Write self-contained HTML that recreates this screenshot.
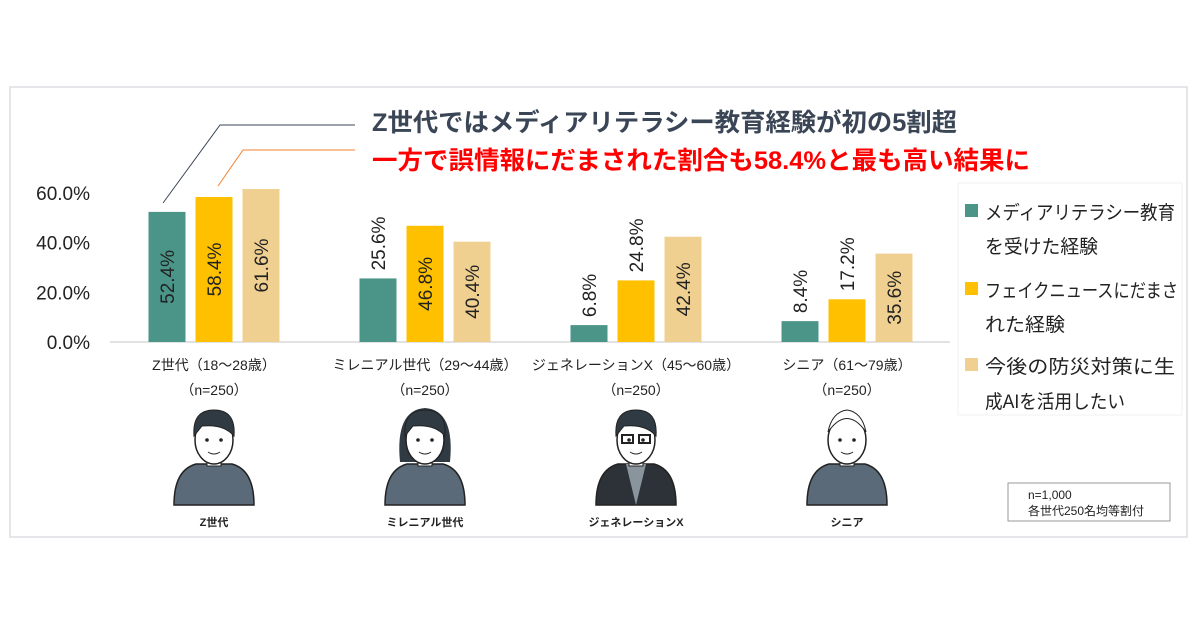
<!DOCTYPE html>
<html><head><meta charset="utf-8"><style>
body{margin:0;width:1200px;height:630px;background:#fff;overflow:hidden;font-family:"Liberation Sans","Noto Sans CJK JP",sans-serif}
</style></head><body>
<svg id="c" width="1200" height="630" xmlns="http://www.w3.org/2000/svg" font-family="'Liberation Sans','Noto Sans CJK JP',sans-serif">
<rect x="10" y="87" width="1177" height="450" fill="#fff" stroke="#dcdde3" stroke-width="1.5"/>
<text x="372" y="131" font-size="25" font-weight="bold" fill="#3a4556" textLength="585" lengthAdjust="spacingAndGlyphs">Z世代ではメディアリテラシー教育経験が初の5割超</text>
<text x="372" y="169" font-size="25" font-weight="bold" fill="#ff0000" textLength="658" lengthAdjust="spacingAndGlyphs">一方で誤情報にだまされた割合も58.4%と最も高い結果に</text>
<polyline points="163,203 220,125 355,125" fill="none" stroke="#3a4556" stroke-width="1"/>
<polyline points="218,186 243,150 355,150" fill="none" stroke="#f08030" stroke-width="1"/>
<g id="plot"></g>
<g>
<rect x="958" y="183" width="224" height="232" fill="#fff" stroke="#f0f0f0"/>
<rect x="965" y="204" width="13" height="13" fill="#4a9488"/>
<text x="985" y="219" font-size="19" fill="#222" textLength="190" lengthAdjust="spacingAndGlyphs">メディアリテラシー教育</text>
<text x="985" y="253" font-size="19" fill="#222" textLength="113" lengthAdjust="spacingAndGlyphs">を受けた経験</text>
<rect x="965" y="282" width="13" height="13" fill="#ffc000"/>
<text x="985" y="297" font-size="19" fill="#222" textLength="193" lengthAdjust="spacingAndGlyphs">フェイクニュースにだまさ</text>
<text x="985" y="331" font-size="19" fill="#222" textLength="80" lengthAdjust="spacingAndGlyphs">れた経験</text>
<rect x="965" y="358" width="13" height="13" fill="#f0d090"/>
<text x="985" y="373" font-size="19" fill="#222" textLength="190" lengthAdjust="spacingAndGlyphs">今後の防災対策に生</text>
<text x="985" y="408" font-size="19" fill="#222" textLength="140" lengthAdjust="spacingAndGlyphs">成AIを活用したい</text>
</g>
<rect x="1008" y="483" width="162" height="38" fill="#fff" stroke="#999"/>
<text x="1028" y="499" font-size="12" fill="#222">n=1,000</text>
<text x="1028" y="515" font-size="12" fill="#222">各世代250名均等割付</text>
<g id="people"></g>
</svg>
<script>
const categories=["Z世代（18～28歳）","ミレニアル世代（29～44歳）","ジェネレーションX（45～60歳）","シニア（61～79歳）"];
const shortNames=["Z世代","ミレニアル世代","ジェネレーションX","シニア"];
const mediaEdu=[52.4,25.6,6.8,8.4];
const fakeNews=[58.4,46.8,24.8,17.2];
const aiDisaster=[61.6,40.4,42.4,35.6];
const yTicks=[0,20,40,60];
const NS="http://www.w3.org/2000/svg";
const plot=document.getElementById('plot');
const y=v=>342-v*149/60;
const gx=i=>214+i*211;
function mk(tag,attrs,parent){const e=document.createElementNS(NS,tag);for(const k in attrs)e.setAttribute(k,attrs[k]);parent.appendChild(e);return e;}
yTicks.forEach(t=>{const e=mk('text',{x:90,y:y(t)+7,'font-size':19,fill:'#222','text-anchor':'end'},plot);e.textContent=t.toFixed(1)+'%';

});
const base=mk('line',{x1:110,x2:950,y1:342,y2:342,stroke:'#d9d9d9','stroke-width':1.5},plot);


const series=[[mediaEdu,'#4a9488','media'],[fakeNews,'#ffc000','fake'],[aiDisaster,'#f0d090','ai']];
categories.forEach((c,i)=>{
 series.forEach((s,j)=>{
  const v=s[0][i];const cx=gx(i)+(j-1)*47;
  const r=mk('rect',{x:cx-18.5,y:y(v),width:37,height:342-y(v),fill:s[1]},plot);
  
  
  const inside=(342-y(v))>85;
  const ly=inside?(y(v)+342)/2:y(v)-8;
  const t=mk('text',{x:0,y:0,'font-size':19,fill:'#222','text-anchor':inside?'middle':'start',transform:`translate(${cx+7},${ly}) rotate(-90)`},plot);
  t.textContent=v.toFixed(1)+'%';
  
  
 });
 const l1=mk('text',{x:gx(i),y:370,'font-size':14,fill:'#222','text-anchor':'middle'},plot);l1.textContent=c;
 
 
 const l2=mk('text',{x:gx(i),y:395,'font-size':14,fill:'#222','text-anchor':'middle'},plot);l2.textContent='（n=250）';
 
 
});
const ppl=document.getElementById('people');
shortNames.forEach((n,i)=>{
 const cx=gx(i);const g=mk('g',{},ppl);
 
 
 const dark=i===2;
 mk('path',{d:`M${cx-40},505 Q${cx-40},470 ${cx-18},464 L${cx+18},464 Q${cx+40},470 ${cx+40},505 Z`,fill:dark?'#2d3238':'#5a6a78',stroke:'#222','stroke-width':1.5},g);
 if(dark)mk('path',{d:`M${cx-10},464 L${cx},505 L${cx+10},464 Z`,fill:'#8a949c'},g);
 if(i===1)mk('path',{d:`M${cx-25},462 Q${cx-30},410 ${cx},408 Q${cx+30},410 ${cx+25},462 Z`,fill:'#2f3a42'},g);
 mk('rect',{x:cx-7,y:452,width:14,height:14,fill:'#fff',stroke:'#222'},g);
 mk('ellipse',{cx:cx,cy:440,rx:19,ry:24,fill:'#fff',stroke:'#222','stroke-width':1.5},g);
 mk('path',{d:i===3?`M${cx-19},432 Q${cx},405 ${cx+19},432 Q${cx+15},412 ${cx},410 Q${cx-15},412 ${cx-19},432Z`:`M${cx-20},436 Q${cx-22},410 ${cx},410 Q${cx+22},410 ${cx+20},436 Q${cx+10},424 ${cx-12},426 Z`,fill:i===3?'#fff':'#2f3a42',stroke:'#222'},g);
 mk('circle',{cx:cx-7,cy:440,r:1.8,fill:'#222'},g);mk('circle',{cx:cx+7,cy:440,r:1.8,fill:'#222'},g);
 if(dark){mk('rect',{x:cx-14,y:435,width:11,height:8,fill:'none',stroke:'#222','stroke-width':2},g);mk('rect',{x:cx+3,y:435,width:11,height:8,fill:'none',stroke:'#222','stroke-width':2},g);}
 mk('path',{d:`M${cx-6},452 Q${cx},456 ${cx+6},452`,fill:'none',stroke:'#222'},g);
 const t=mk('text',{x:cx,y:526,'font-size':11,'font-weight':'bold',fill:'#222','text-anchor':'middle'},ppl);t.textContent=n;
 
 
});
</script>
</body></html>
